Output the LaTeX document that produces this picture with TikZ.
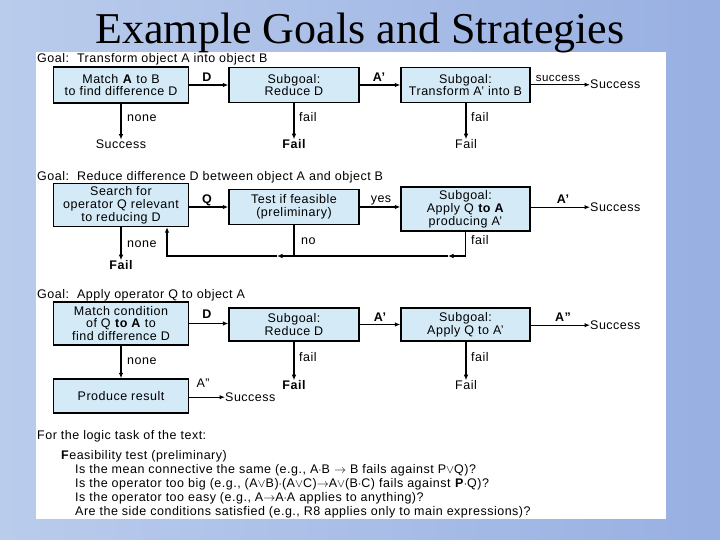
\documentclass[tikz,border=0pt]{standalone}
\usepackage{fontspec}
\setmainfont{Liberation Sans}[LetterSpace=4]
\newfontfamily\titlefont{Liberation Serif}
\usetikzlibrary{arrows.meta}
\definecolor{bgL}{RGB}{186,204,236}
\definecolor{bgR}{RGB}{152,176,226}
\definecolor{boxblue}{RGB}{212,234,247}
\tikzset{
  box/.style={draw, line width=1.3pt, fill=boxblue, align=center, inner sep=0pt,
    font=\fontsize{12.5}{12.8}\selectfont},
  lab/.style={inner sep=0pt, font=\fontsize{12.5}{13}\selectfont},
  labb/.style={inner sep=0pt, font=\fontsize{12.5}{13}\selectfont\bfseries},
  labs/.style={inner sep=0pt, font=\fontsize{11.5}{12}\selectfont},
  arr/.style={-{Latex[length=5.5pt,width=4.5pt]}, line width=1.1pt},
  ln/.style={line width=1.1pt},
}
\begin{document}
\begin{tikzpicture}[x=1pt,y=-1pt]
\useasboundingbox (0,0) rectangle (720,540);
\shade[left color=bgL, right color=bgR] (0,0) rectangle (720,540);
\fill[white] (36,52) rectangle (666,519);
\node[font=\titlefont\fontsize{44}{44}\selectfont, anchor=base, inner sep=0pt] (title) at (360,44) {Example Goals and Strategies};

% ---------- Row 1
\node[lab, anchor=base west] (g1) at (37,63) {Goal:\ \ Transform object A into object B};
\node[box, minimum width=135pt, minimum height=36pt] (b1) at (121,85) {Match \textbf{A} to B\\to find difference D};
\node[box, minimum width=130pt, minimum height=35pt] (b2) at (294,85) {Subgoal:\\Reduce D};
\node[box, minimum width=129pt, minimum height=35pt] (b3) at (465.5,85) {Subgoal:\\Transform A' into B};
\node[lab, anchor=base west] (s1) at (590,89) {Success};
\node[lab, anchor=base] (s0) at (121,148.5) {Success};
\node[labb, anchor=base] (f1) at (294,148.5) {Fail};
\node[lab, anchor=base] (f2) at (466,148.5) {Fail};
\draw[arr] (b1) -- (b2);
\node[labb, anchor=base] (d1) at (207,81.5) {D};
\draw[arr] (b2) -- (b3);
\node[labb, anchor=base] (a1) at (379,81.5) {A'};
\draw[arr] (b3.east |- s1.west) -- (s1.west);
\node[labs, anchor=base] (sc1) at (558,82) {success};
\draw[arr] (s0.north |- b1.south) -- (s0.north);
\node[lab, anchor=base west] (n1) at (127,121.5) {none};
\draw[arr] (f1.north |- b2.south) -- (f1.north);
\node[lab, anchor=base west] (l1) at (299,121.5) {fail};
\draw[arr] (f2.north |- b3.south) -- (f2.north);
\node[lab, anchor=base west] (l2) at (471,122) {fail};

% ---------- Row 2
\node[lab, anchor=base west] (g2) at (37,181) {Goal:\ \ Reduce difference D between object A and object B};
\node[box, minimum width=135pt, minimum height=43pt] (b4) at (121,205) {Search for\\operator Q relevant\\to reducing D};
\node[box, minimum width=130pt, minimum height=35pt] (b5) at (294,207) {Test if feasible\\(preliminary)};
\node[box, minimum width=129pt, minimum height=44pt] (b6) at (465.5,209) {Subgoal:\\Apply Q \textbf{to A}\\producing A'};
\node[lab, anchor=base west] (s2) at (590,211.5) {Success};
\draw[arr] (b4.east |- b5.west) -- (b5.west);
\node[labb, anchor=base] (q2) at (207,203.5) {Q};
\draw[arr] (b5.east) -- (b5.east -| b6.west);
\node[lab, anchor=base] (y2) at (381,203) {yes};
\draw[arr] (b6.east |- s2.west) -- (s2.west);
\node[labb, anchor=base] (a2) at (563,203.5) {A'};
\node[labb, anchor=base] (f3) at (121,269.5) {Fail};
\draw[arr] (f3.north |- b4.south) -- (f3.north);
\node[lab, anchor=base west] (n2) at (127,247.5) {none};
\coordinate (m1) at (448,256);
\coordinate (m2) at (277,256);
\coordinate (j3) at (167,256);
\draw[arr] (b6.south) |- (m1);
\draw[arr] (m1) -- (m2);
\draw[ln] (b5.south) -- (b5.south |- m2);
\draw[arr] (m2) -- (j3) -- (j3 |- b4.south);
\node[lab, anchor=base west] (no2) at (301,244) {no};
\node[lab, anchor=base west] (l3) at (471,244) {fail};

% ---------- Row 3
\node[lab, anchor=base west] (g3) at (37,298) {Goal:\ \ Apply operator Q to object A};
\node[box, minimum width=135pt, minimum height=43pt] (b7) at (121,323.5) {Match condition\\of Q \textbf{to A} to\\find difference D};
\node[box, minimum width=130pt, minimum height=33pt] (b8) at (294,324.5) {Subgoal:\\Reduce D};
\node[box, minimum width=129pt, minimum height=33pt] (b9) at (465.5,324.5) {Subgoal:\\Apply Q to A'};
\node[box, minimum width=135pt, minimum height=34pt] (b10) at (121,396) {Produce result};
\node[lab, anchor=base west] (s3) at (590,329.5) {Success};
\draw[arr] (b7.east) -- (b7.east -| b8.west);
\node[labb, anchor=base] (d3) at (207,318.5) {D};
\draw[arr] (b8) -- (b9);
\node[labb, anchor=base] (a3) at (380,321.5) {A'};
\draw[arr] (b9.east |- s3.west) -- (s3.west);
\node[labb, anchor=base] (aa3) at (563,321.5) {A''};
\draw[arr] (b7) -- (b10);
\node[lab, anchor=base west] (n3) at (127,364.5) {none};
\node[labb, anchor=base] (f4) at (294,389.5) {Fail};
\node[lab, anchor=base] (f5) at (466,389.5) {Fail};
\draw[arr] (f4.north |- b8.south) -- (f4.north);
\node[lab, anchor=base west] (l4) at (299,361.5) {fail};
\draw[arr] (f5.north |- b9.south) -- (f5.north);
\node[lab, anchor=base west] (l5) at (471,361.5) {fail};
\node[lab, anchor=base west] (s4) at (225,401.5) {Success};
\draw[arr] (b10.east |- s4.west) -- (s4.west);
\node[lab, anchor=base] (aa4) at (203,387.5) {A''};

% ---------- Bottom text
\node[lab, anchor=base west] (t1) at (37,439.5) {For the logic task of the text:};
\node[lab, anchor=base west] (t2) at (61,459.5) {\textbf{F}easibility test (preliminary)};
\node[lab, anchor=base west] (t3) at (75,473.5) {Is the mean connective the same (e.g., A$\cdot$B $\rightarrow$ B fails against P$\vee$Q)?};
\node[lab, anchor=base west] (t4) at (75,487.5) {Is the operator too big (e.g., (A$\vee$B)$\cdot$(A$\vee$C)$\rightarrow$A$\vee$(B$\cdot$C) fails against \textbf{P}$\cdot$Q)?};
\node[lab, anchor=base west] (t5) at (75,501.5) {Is the operator too easy (e.g., A$\rightarrow$A$\cdot$A applies to anything)?};
\node[lab, anchor=base west] (t6) at (75,515.5) {Are the side conditions satisfied (e.g., R8 applies only to main expressions)?};
\end{tikzpicture}
\end{document}
